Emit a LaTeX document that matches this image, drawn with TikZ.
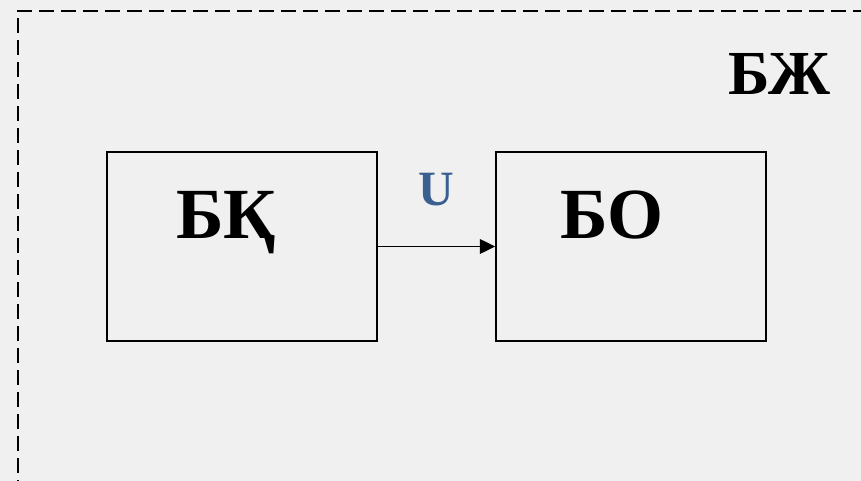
\documentclass[tikz,border=0pt]{standalone}
\usepackage{fontspec}
\setmainfont{Liberation Serif}
\usetikzlibrary{arrows.meta}
\definecolor{bgc}{RGB}{240,240,240}
\definecolor{ucol}{RGB}{58,95,145}
\begin{document}
\begin{tikzpicture}[x=0.75pt,y=-0.75pt,
  blockbox/.style={draw=black,line width=1.2pt,minimum width=202.5pt,minimum height=141.75pt,inner sep=0pt},
  bigtxt/.style={font=\fontsize{54}{60}\selectfont\bfseries,anchor=base,inner sep=0pt},
  conn/.style={line width=1.2pt,-{Triangle[length=11.5pt,width=11pt]}}]
\fill[bgc] (0,0) rectangle (861,481);
\useasboundingbox (0,0) rectangle (861,481);
\draw[line width=1.7pt,dash pattern=on 11.25pt off 5.25pt] (17.7,495) -- (17.7,10.7) -- (875,10.7);
\node[blockbox] (bk) at (242,246.5) {};
\node[blockbox] (bo) at (631,246.5) {};
\node[bigtxt] (bktxt) at (226,239) {БҚ};
\node[bigtxt] (botxt) at (612,239) {БО};
\node[bigtxt,font=\fontsize{47}{52}\selectfont\bfseries] (bzh) at (779,95) {БЖ};
\node[anchor=base,inner sep=0pt,text=ucol,font=\fontsize{37}{40}\selectfont\bfseries] (u) at (436,206) {U};
\draw[conn] (bk.east) -- (bo.west);
\end{tikzpicture}
\end{document}
